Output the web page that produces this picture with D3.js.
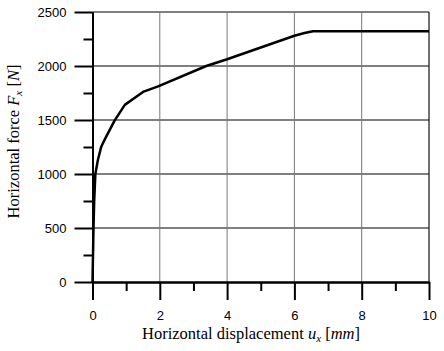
<!DOCTYPE html>
<html>
<head>
<meta charset="utf-8">
<script src="https://cdn.jsdelivr.net/npm/d3@7"></script>
<style>
  body { margin: 0; background: #fff; }
  svg { display: block; }
</style>
</head>
<body>
<div id="chart"></div>
<script>
// Data
const displacement = [0, 0.03, 0.05, 0.085, 0.16, 0.26, 0.38, 0.66, 0.96, 1.5, 1.95, 3.38, 4.0, 6.0, 6.3, 6.55, 10];
const force = [0, 500, 745, 1000, 1130, 1253, 1330, 1497, 1640, 1760, 1812, 2000, 2062, 2280, 2305, 2322, 2322];
const xTicks = [0, 2, 4, 6, 8, 10];
const xMinorTicks = [1, 3, 5, 7, 9];
const yTicks = [0, 500, 1000, 1500, 2000, 2500];
const yMinorTicks = [250, 750, 1250, 1750, 2250];

const width = 444;
const height = 351;

const x = d3.scaleLinear().domain([0, 10]).range([92.5, 429]);
const y = d3.scaleLinear().domain([0, 2500]).range([282, 12]);

const svg = d3.select("#chart").append("svg")
    .attr("width", width)
    .attr("height", height)
    .attr("viewBox", [0, 0, width, height]);

// Grid: horizontal black, vertical gray
svg.append("g")
    .selectAll("line")
    .data(yTicks.slice(1))
    .join("line")
    .attr("x1", x(0)).attr("x2", x(10))
    .attr("y1", d => y(d)).attr("y2", d => y(d))
    .attr("stroke", "#000")
    .attr("stroke-width", 1);

svg.append("g")
    .selectAll("line")
    .data(xTicks.slice(1, -1))
    .join("line")
    .attr("x1", d => x(d)).attr("x2", d => x(d))
    .attr("y1", y(0)).attr("y2", y(2500))
    .attr("stroke", "#777")
    .attr("stroke-width", 1);

// Right border
svg.append("line")
    .attr("x1", x(10)).attr("x2", x(10))
    .attr("y1", y(0)).attr("y2", y(2500))
    .attr("stroke", "#111")
    .attr("stroke-width", 1.2);

// Axes
const tickFont = "'Liberation Sans', Arial, sans-serif";

svg.append("g")
    .attr("transform", `translate(0,${y(0)})`)
    .call(d3.axisBottom(x).tickValues(xTicks).tickSize(18).tickSizeOuter(0).tickPadding(11).tickFormat(d3.format("d")));
svg.append("g")
    .attr("transform", `translate(0,${y(0)})`)
    .call(d3.axisBottom(x).tickValues(xMinorTicks).tickSize(9).tickSizeOuter(0).tickFormat(""));

svg.append("g")
    .attr("transform", `translate(${x(0)},0)`)
    .call(d3.axisLeft(y).tickValues(yTicks).tickSize(18).tickSizeOuter(0).tickPadding(8).tickFormat(d3.format("d")));
svg.append("g")
    .attr("transform", `translate(${x(0)},0)`)
    .call(d3.axisLeft(y).tickValues(yMinorTicks).tickSize(9).tickSizeOuter(0).tickFormat(""));

svg.selectAll(".domain").attr("stroke", "#000").attr("stroke-width", 2);
svg.selectAll(".tick line").attr("stroke", "#000").attr("stroke-width", 2);
svg.selectAll(".tick text")
    .attr("fill", "#000")
    .style("font-family", tickFont)
    .style("font-size", "13px");

// Curve
const line = d3.line()
    .x((d, i) => x(displacement[i]))
    .y(d => y(d));

svg.append("path")
    .datum(force)
    .attr("fill", "none")
    .attr("stroke", "#000")
    .attr("stroke-width", 2.5)
    .attr("stroke-linejoin", "round")
    .attr("d", line);

// Axis titles
const titleFont = "'Liberation Serif', 'Times New Roman', serif";

const xTitle = svg.append("text")
    .attr("x", 251)
    .attr("y", 339)
    .attr("text-anchor", "middle")
    .style("font-family", titleFont)
    .style("font-size", "16.5px");
xTitle.append("tspan").text("Horizontal displacement ");
xTitle.append("tspan").style("font-style", "italic").text("u");
xTitle.append("tspan").style("font-style", "italic").style("font-size", "11px").attr("dy", 3).text("x");
xTitle.append("tspan").attr("dy", -3).text(" [");
xTitle.append("tspan").style("font-style", "italic").text("mm");
xTitle.append("tspan").text("]");

const yTitle = svg.append("text")
    .attr("transform", "translate(19,141.5) rotate(-90)")
    .attr("text-anchor", "middle")
    .style("font-family", titleFont)
    .style("font-size", "16.5px");
yTitle.append("tspan").text("Horizontal force ");
yTitle.append("tspan").style("font-style", "italic").text("F");
yTitle.append("tspan").style("font-style", "italic").style("font-size", "11px").attr("dy", 3).text("x");
yTitle.append("tspan").attr("dy", -3).text(" [");
yTitle.append("tspan").style("font-style", "italic").text("N");
yTitle.append("tspan").text("]");
</script>
</body>
</html>
